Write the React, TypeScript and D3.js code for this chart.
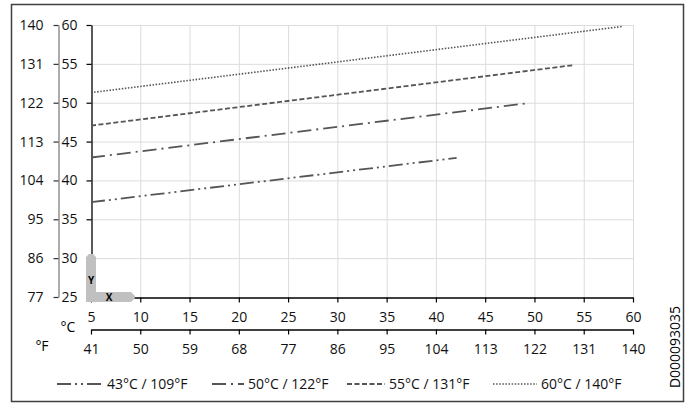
import React, { useEffect, useRef } from 'react';
import * as d3 from 'd3';

// temperature axes (°C primary, °F secondary)
const xTicksC = [5, 10, 15, 20, 25, 30, 35, 40, 45, 50, 55, 60];
const xTicksF = [41, 50, 59, 68, 77, 86, 95, 104, 113, 122, 131, 140];
const yTicksC = [25, 30, 35, 40, 45, 50, 55, 60];
const yTicksF = [77, 86, 95, 104, 113, 122, 131, 140];

const seriesNames = ['43°C / 109°F', '50°C / 122°F', '55°C / 131°F', '60°C / 140°F'];
const line43 = [
    [5, 37.2],
    [42.1, 42.9],
];
const line50 = [
    [5, 42.95],
    [49.1, 49.9],
];
const line55 = [
    [5, 47.05],
    [54.05, 54.85],
];
const line60 = [
    [5, 51.3],
    [58.85, 59.8],
];

const dashes = ['14 4 2 4 2 4', '14 5 2 5', '5 2.5', '1.5 1.6'];
const legendX = [57, 212, 347, 493];
const legendLen = [46, 32, 38, 44];

const FONT = "'Open Sans', sans-serif";
const FS = 14;
const LINE_COLOR = '#555555';

export default function App() {
    const ref = useRef<SVGSVGElement>(null);

    useEffect(() => {
        const svg = d3.select(ref.current);
        svg.selectAll('*').remove();

        const x = d3.scaleLinear().domain([5, 60]).range([91, 633]);
        const xF = d3.scaleLinear().domain([41, 140]).range([91, 633]);
        const y = d3.scaleLinear().domain([25, 60]).range([297, 25]);
        const yF = d3.scaleLinear().domain([77, 140]).range([297, 25]);

        // frame
        svg.append('rect')
            .attr('x', 11.5)
            .attr('y', 4.5)
            .attr('width', 672)
            .attr('height', 397)
            .attr('fill', 'none')
            .attr('stroke', '#404040')
            .attr('stroke-width', 1.5);

        // grid
        const grid = svg.append('g').attr('stroke', '#dcdcdc').attr('stroke-width', 1);
        grid.selectAll('.vg')
            .data(xTicksC.slice(1))
            .enter()
            .append('line')
            .attr('x1', (d) => x(d) + 0.5)
            .attr('x2', (d) => x(d) + 0.5)
            .attr('y1', y(60))
            .attr('y2', y(25));
        grid.selectAll('.hg')
            .data(yTicksC.slice(1))
            .enter()
            .append('line')
            .attr('x1', x(5))
            .attr('x2', x(60))
            .attr('y1', (d) => y(d) + 0.5)
            .attr('y2', (d) => y(d) + 0.5);

        const styleAxis = (g: any, color: string, tickColor: string) => {
            g.attr('font-family', FONT).attr('font-size', FS);
            g.select('.domain').attr('stroke', color).attr('stroke-width', 1.3);
            g.selectAll('.tick line').attr('stroke', tickColor).attr('stroke-width', 1.2);
            g.selectAll('.tick text').attr('fill', '#111');
        };

        // left axes
        svg.append('g')
            .attr('transform', 'translate(91.5,0)')
            .call(d3.axisLeft(y).tickValues(yTicksC).tickSize(5).tickSizeOuter(0).tickPadding(9))
            .call((g) => styleAxis(g, '#000', '#000'));
        svg.append('g')
            .attr('transform', 'translate(58.5,0)')
            .call(d3.axisLeft(yF).tickValues(yTicksF).tickSize(5).tickSizeOuter(0).tickPadding(10))
            .call((g) => styleAxis(g, '#808080', '#333'));

        // bottom axes
        svg.append('g')
            .attr('transform', 'translate(0,297.5)')
            .call(d3.axisBottom(x).tickValues(xTicksC).tickSize(5).tickSizeOuter(0).tickPadding(10))
            .call((g) => styleAxis(g, '#000', '#000'));
        svg.append('g')
            .attr('transform', 'translate(0,329.5)')
            .call(d3.axisBottom(xF).tickValues(xTicksF).tickSize(5).tickSizeOuter(0).tickPadding(10))
            .call((g) => styleAxis(g, '#000', '#000'));

        svg.append('text')
            .attr('x', 68)
            .attr('y', 332)
            .attr('text-anchor', 'middle')
            .attr('font-family', FONT)
            .attr('font-size', FS)
            .text('°C');
        svg.append('text')
            .attr('x', 42)
            .attr('y', 351)
            .attr('text-anchor', 'middle')
            .attr('font-family', FONT)
            .attr('font-size', FS)
            .text('°F');

        // X / Y marker
        const ox = x(5);
        const oy = y(25);
        svg.append('path')
            .attr(
                'd',
                `M${ox - 5},${oy + 5} V${oy - 40} L${ox - 2},${oy - 43} H${ox + 2} L${ox + 5},${oy - 40} V${oy - 5} H${ox + 40} L${ox + 44},${oy - 1} V${oy + 1} L${ox + 40},${oy + 5} Z`
            )
            .attr('fill', '#c0c0c0');
        svg.append('text')
            .attr('x', ox)
            .attr('y', oy - 13)
            .attr('text-anchor', 'middle')
            .attr('font-family', FONT)
            .attr('font-size', 10)
            .attr('font-weight', 'bold')
            .text('Y');
        svg.append('text')
            .attr('x', ox + 18)
            .attr('y', oy + 4)
            .attr('text-anchor', 'middle')
            .attr('font-family', FONT)
            .attr('font-size', 10)
            .attr('font-weight', 'bold')
            .text('X');

        // series
        const line = d3
            .line<number[]>()
            .x((d) => x(d[0]))
            .y((d) => y(d[1]));
        const series = [line43, line50, line55, line60];
        svg.selectAll('.series')
            .data(series)
            .enter()
            .append('path')
            .attr('d', (d) => line(d))
            .attr('fill', 'none')
            .attr('stroke', LINE_COLOR)
            .attr('stroke-width', (d, i) => (i === 3 ? 1.6 : 1.8))
            .attr('stroke-dasharray', (d, i) => dashes[i]);

        // legend
        const legend = svg.append('g');
        seriesNames.forEach((name, i) => {
            legend
                .append('line')
                .attr('x1', legendX[i])
                .attr('x2', legendX[i] + legendLen[i])
                .attr('y1', 384)
                .attr('y2', 384)
                .attr('stroke', LINE_COLOR)
                .attr('stroke-width', i === 3 ? 1.4 : 1.8)
                .attr('stroke-dasharray', dashes[i]);
            legend
                .append('text')
                .attr('x', legendX[i] + legendLen[i] + 4)
                .attr('y', 389)
                .attr('font-family', FONT)
                .attr('font-size', FS)
                .attr('fill', '#111')
                .text(name);
        });

        svg.append('text')
            .attr('transform', 'translate(680,347) rotate(-90)')
            .attr('text-anchor', 'middle')
            .attr('font-family', FONT)
            .attr('font-size', FS)
            .text('D000093035');
    }, []);

    return <svg ref={ref} width={693} height={403} style={{ position: 'absolute', left: 0, top: 0 }} />;
}
